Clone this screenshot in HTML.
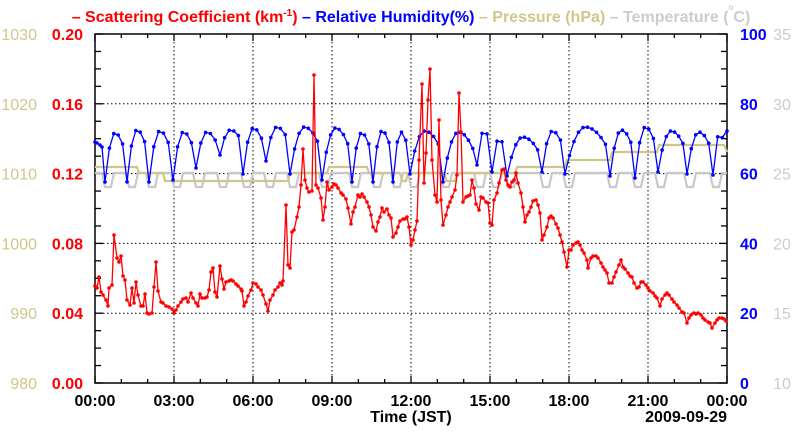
<!DOCTYPE html>
<html><head><meta charset="utf-8"><style>
html,body{margin:0;padding:0;background:#fff;}
svg{display:block;font-family:"Liberation Sans",sans-serif;}
</style></head><body>
<svg id="s" width="800" height="434" xmlns="http://www.w3.org/2000/svg">
<text x="411" y="22" text-anchor="middle" font-size="16" font-weight="bold"><tspan fill="#ff0000">– Scattering Coefficient (km</tspan><tspan fill="#ff0000" font-size="10" dy="-6">-1</tspan><tspan fill="#ff0000" dy="6">)</tspan><tspan fill="#0000ff"> – Relative Humidity(%)</tspan><tspan fill="#cfc78a"> – Pressure (hPa)</tspan><tspan fill="#cccccc"> – Temperature (</tspan><tspan fill="#cccccc" font-size="8" dy="-12">o</tspan><tspan fill="#cccccc" dy="12">C)</tspan></text>
<g id="grid" stroke="#000" stroke-width="1" stroke-dasharray="1.5,2.5"></g>
<g id="ticks" stroke="#000" stroke-width="1.3"></g>
<rect x="95" y="34" width="632" height="349" fill="none" stroke="#000" stroke-width="1.5"/>
<g id="series"></g>
<g id="labels" font-weight="bold" font-size="16"></g>
<text x="411" y="422" text-anchor="middle" font-size="16" font-weight="bold">Time (JST)</text>
<text x="727" y="422" text-anchor="end" font-size="16" font-weight="bold">2009-09-29</text>
</svg>
<script>
var NS="http://www.w3.org/2000/svg";
function el(p,t,a,txt){var e=document.createElementNS(NS,t);for(var k in a)e.setAttribute(k,a[k]);if(txt!=null)e.textContent=txt;p.appendChild(e);return e;}
var L=95,R=727,T=34,B=383,W=R-L,H=B-T;
var g=document.getElementById('grid'),tk=document.getElementById('ticks'),lb=document.getElementById('labels'),se=document.getElementById('series');
for(var i=1;i<8;i++){var x=L+W*i/8;el(g,'line',{x1:x,y1:T,x2:x,y2:B});}
for(var i=1;i<5;i++){var y=B-H*i/5;el(g,'line',{x1:L,y1:y,x2:R,y2:y});}
for(var i=0;i<=24;i++){var x=L+W*i/24;var len=(i%3==0)?7:4;el(tk,'line',{x1:x,y1:B,x2:x,y2:B-len});el(tk,'line',{x1:x,y1:T,x2:x,y2:T+len});}
for(var i=0;i<=20;i++){var y=B-H*i/20;var len=(i%4==0)?8:6;el(tk,'line',{x1:L,y1:y,x2:L+len,y2:y});el(tk,'line',{x1:R,y1:y,x2:R-len,y2:y});}
var hrs=["00:00","03:00","06:00","09:00","12:00","15:00","18:00","21:00","00:00"];
for(var i=0;i<9;i++)el(lb,'text',{x:L+W*i/8,y:406,'text-anchor':'middle',fill:'#000'},hrs[i]);
var sc=["0.00","0.04","0.08","0.12","0.16","0.20"],pr=["980","990","1000","1010","1020","1030"],rh=["0","20","40","60","80","100"],tp=["10","15","20","25","30","35"];
for(var i=0;i<6;i++){var y=B-H*i/5+6;
el(lb,'text',{x:83,y:y,'text-anchor':'end',fill:'#ff0000'},sc[i]);
el(lb,'text',{x:37,y:y,'text-anchor':'end',fill:'#cfc78a','font-weight':'normal'},pr[i]);
el(lb,'text',{x:740,y:y,'text-anchor':'start',fill:'#0000ff'},rh[i]);
el(lb,'text',{x:782,y:y,'text-anchor':'middle',fill:'#cccccc','font-weight':'normal'},tp[i]);}
var tpts=[],bx=[108,132,152,177,199,223,247,270,293,325,355,377,397,414,446,480,496,511,546,569,613,638,661,690,716];
tpts.push([L,173]);
bx.forEach(function(c){tpts.push([c-6,173],[c-3,187],[c+3,187],[c+6,173]);});
tpts.push([R,173]);
el(se,'polyline',{points:tpts.map(function(p){return p.join(',')}).join(' '),fill:'none',stroke:'#c8c8c8','stroke-width':2.2});
var pp=[[95,167],[137,167],[139,173],[163,173],[165,181],[288,181],[290,173],[327,173],[329,167],[367,167],[369,173],[400,173],[402,181],[406,181],[408,173],[445,173],[446,181],[455,181],[457,173],[515,173],[517,167],[565,167],[567,160],[610,160],[612,152],[657,152],[659,145],[724,145],[727,152]];
el(se,'polyline',{points:pp.map(function(p){return p.join(',')}).join(' '),fill:'none',stroke:'#cfc78a','stroke-width':2.2});
var tr=[[105,182],[127,182],[149,182],[173,180],[196,168],[220,155],[243,174],[266,161],[290,174],[322,180],[352,182],[373,182],[393,182],[410,174],[443,182],[477,165],[492,172],[507,176],[542,172],[565,174],[610,176],[635,178],[658,172],[687,174],[713,175]];
var rp=[[95,142],[97,143],[100,145],[102,147]];
var peaks=[133,130,131,132,132,130,128,127,127,128,133,131,132,131,132,131,139,137,131,127,130,127,131,132,134];
for(var k=0;k<tr.length;k++){
 var tx=tr[k][0],ty=tr[k][1];
 var nx=(k+1<tr.length)?tr[k+1][0]:R;
 rp.push([tx,ty]);
 var span=nx-tx,pk=peaks[k];
 var pts=Math.max(3,Math.round(span/4.4));
 for(var j=1;j<pts;j++){var xx=tx+span*j/pts;var f=j/pts;var h;
  if(f<0.45)h=1-Math.pow((f-0.45)/0.45,2);else h=1-Math.pow((f-0.45)/0.55,2)*0.55;
  var y=ty-(ty-pk)*h;
  rp.push([Math.round(xx*10)/10,Math.round(y*10)/10]);}
}
rp.push([727,131]);
el(se,'polyline',{points:rp.map(function(p){return p.join(',')}).join(' '),fill:'none',stroke:'#0000ff','stroke-width':1.3});
rp.forEach(function(p){el(se,'circle',{cx:p[0],cy:p[1],r:1.8,fill:'#0000ff'});});
var sp=[[95,286],[97,288],[99,277],[101,292],[103,295],[106,300],[108,306],[109,288],[112,285],[114,235],[117,258],[119,262],[121,256],[123,276],[125,280],[127,300],[130,305],[132,288],[134,303],[136,282],[138,295],[141,306],[143,306],[145,294],[147,313],[149,314],[152,313],[154,287],[156,262],[158,291],[161,302],[163,303],[166,306],[169,307],[172,309],[174,313],[176,310],[178,306],[181,302],[183,299],[186,298],[188,302],[191,293],[193,298],[196,303],[198,306],[200,294],[202,298],[205,298],[207,297],[209,290],[211,272],[213,268],[215,292],[217,297],[220,266],[222,279],[224,289],[226,282],[229,281],[231,280],[233,281],[236,284],[238,286],[241,289],[242,291],[244,306],[246,302],[248,296],[251,290],[253,283],[256,284],[258,287],[261,290],[263,295],[266,304],[268,311],[270,300],[273,295],[275,290],[278,287],[280,283],[282,285],[283,281],[286,205],[288,265],[290,268],[292,232],[294,230],[297,217],[299,207],[301,185],[303,149],[305,180],[307,188],[309,192],[312,191],[314,75],[316,185],[318,188],[321,198],[323,220],[325,207],[327,182],[329,190],[332,187],[334,184],[336,185],[338,188],[341,193],[343,195],[346,199],[348,208],[351,224],[353,212],[355,207],[358,195],[360,197],[362,194],[364,197],[367,202],[369,207],[371,215],[373,227],[376,231],[378,222],[380,217],[382,208],[384,212],[387,209],[389,215],[391,218],[393,237],[396,233],[398,227],[400,221],[403,219],[405,219],[407,217],[409,227],[411,245],[413,240],[415,230],[417,221],[419,160],[422,84],[424,183],[426,153],[428,100],[430,69],[432,160],[435,195],[437,202],[439,120],[441,200],[443,225],[446,215],[448,207],[450,202],[452,197],[455,190],[457,175],[459,93],[461,132],[463,202],[466,197],[468,196],[470,195],[472,180],[474,188],[476,204],[479,210],[481,197],[483,198],[486,202],[488,203],[490,223],[492,225],[494,200],[497,193],[499,183],[502,170],[504,169],[506,180],[508,185],[510,187],[512,182],[514,180],[516,173],[518,183],[521,193],[523,207],[525,222],[527,215],[529,212],[531,207],[533,201],[536,200],[538,205],[540,213],[542,240],[544,235],[547,227],[549,218],[551,216],[553,218],[556,224],[558,228],[560,235],[562,242],[564,252],[567,267],[569,250],[571,250],[573,245],[576,243],[578,242],[580,245],[582,250],[584,253],[587,260],[588,268],[591,258],[593,256],[596,256],[598,258],[601,263],[603,267],[605,270],[607,273],[609,283],[612,283],[614,277],[616,272],[619,265],[621,260],[623,267],[625,269],[628,273],[630,276],[632,277],[634,283],[637,288],[639,287],[641,282],[643,282],[646,285],[648,288],[650,291],[653,293],[655,296],[657,298],[660,306],[662,299],[665,295],[667,293],[669,295],[672,299],[674,302],[677,305],[679,308],[682,312],[684,313],[687,323],[689,318],[691,315],[694,313],[696,314],[698,313],[701,315],[703,318],[705,320],[708,322],[710,323],[712,328],[715,323],[717,320],[719,318],[722,318],[724,319],[726,321]];
el(se,'polyline',{points:sp.map(function(p){return p.join(',')}).join(' '),fill:'none',stroke:'#ff0000','stroke-width':1.3});
sp.forEach(function(p){el(se,'circle',{cx:p[0],cy:p[1],r:1.8,fill:'#ff0000'});});
</script>
</body></html>
